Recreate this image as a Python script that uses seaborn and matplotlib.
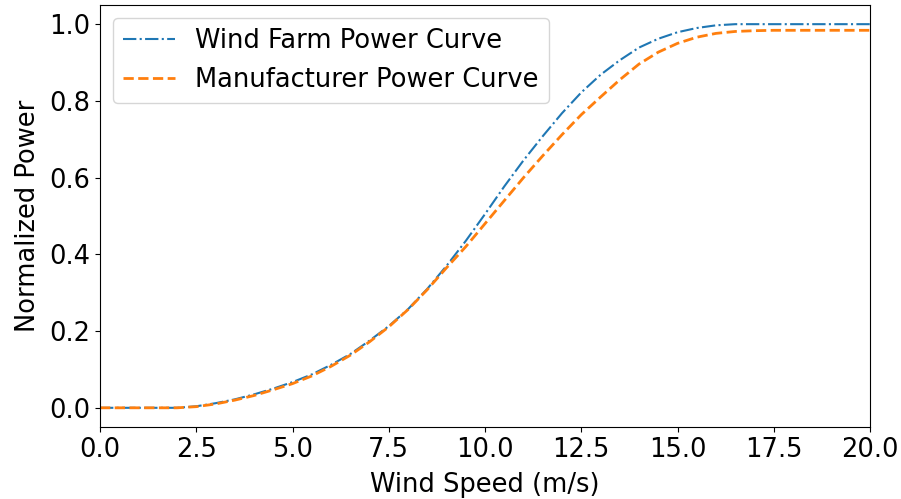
import matplotlib
matplotlib.use("Agg")
import matplotlib.pyplot as plt
import seaborn as sns
import pandas as pd

# Wind speed grid (m/s)
wind_speed = [0.0, 0.5, 1.0, 1.5, 2.0, 2.5, 3.0, 3.5, 4.0, 4.5,
              5.0, 5.5, 6.0, 6.5, 7.0, 7.5, 8.0, 8.5, 9.0, 9.5,
              10.0, 10.5, 11.0, 11.5, 12.0, 12.5, 13.0, 13.5, 14.0, 14.5,
              15.0, 15.5, 16.0, 16.5, 17.0, 17.5, 18.0, 18.5, 19.0, 19.5, 20.0]

# Normalized power derived from wind farm measurements
wind_farm_power = [0.0, 0.0, 0.0, 0.0, 0.0, 0.004, 0.012, 0.022, 0.035, 0.05,
                   0.067, 0.087, 0.112, 0.14, 0.175, 0.213, 0.257, 0.31, 0.37, 0.435,
                   0.505, 0.577, 0.645, 0.708, 0.768, 0.822, 0.868, 0.906, 0.939, 0.962,
                   0.979, 0.99, 0.997, 1.0, 1.0, 1.0, 1.0, 1.0, 1.0, 1.0, 1.0]

# Normalized power from the manufacturer's datasheet
manufacturer_power = [0.0, 0.0, 0.0, 0.0, 0.0, 0.003, 0.01, 0.02, 0.032, 0.047,
                      0.063, 0.083, 0.108, 0.137, 0.172, 0.211, 0.256, 0.308, 0.365, 0.42,
                      0.48, 0.54, 0.60, 0.657, 0.712, 0.764, 0.81, 0.855, 0.896, 0.927,
                      0.95, 0.966, 0.976, 0.981, 0.983, 0.984, 0.984, 0.984, 0.984, 0.984, 0.984]

series_names = ["Wind Farm Power Curve", "Manufacturer Power Curve"]

df = pd.DataFrame({
    "Wind Speed (m/s)": wind_speed * 2,
    "Normalized Power": wind_farm_power + manufacturer_power,
    "curve": [series_names[0]] * len(wind_speed) + [series_names[1]] * len(wind_speed),
})

FS = 18.5
plt.rcParams["font.family"] = ["DejaVu Sans"]
plt.rcParams["font.size"] = FS

fig = plt.figure(figsize=(9.01, 4.99), dpi=100)
ax = fig.add_axes([0.111, 0.1443, 0.8546, 0.8457])

sns.lineplot(data=df[df["curve"] == series_names[0]], x="Wind Speed (m/s)", y="Normalized Power",
             ax=ax, color="#1f77b4", linestyle="-.", linewidth=1.5, label=series_names[0])
sns.lineplot(data=df[df["curve"] == series_names[1]], x="Wind Speed (m/s)", y="Normalized Power",
             ax=ax, color="#ff7f0e", linestyle="--", linewidth=2.0, label=series_names[1])

ax.set_xlim(0, 20)
ax.set_ylim(-0.05, 1.05)
ax.set_xticks([0, 2.5, 5, 7.5, 10, 12.5, 15, 17.5, 20])
ax.set_yticks([0.0, 0.2, 0.4, 0.6, 0.8, 1.0])
ax.set_xlabel("Wind Speed (m/s)", fontsize=FS, labelpad=7)
ax.set_ylabel("Normalized Power", fontsize=FS, labelpad=6)
ax.tick_params(labelsize=FS)
ax.legend(loc="upper left", fontsize=FS)

fig.savefig("out.png", dpi=100)
